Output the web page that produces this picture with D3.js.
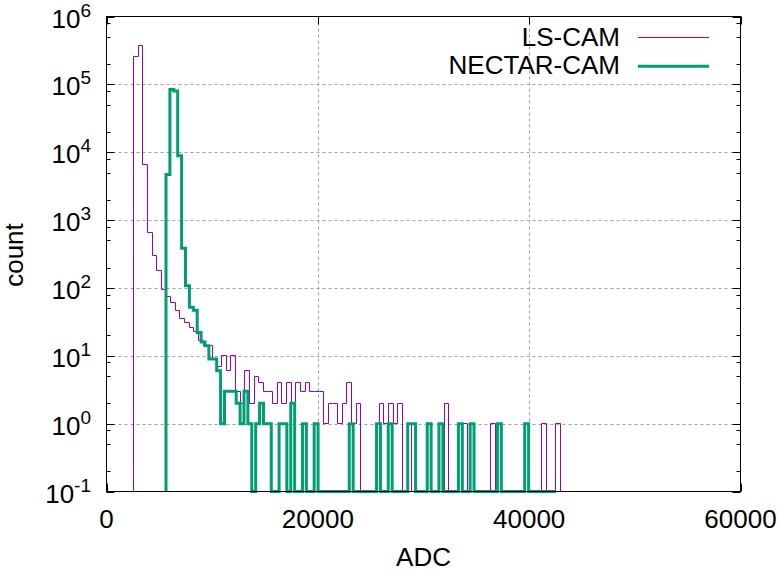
<!DOCTYPE html>
<html>
<head>
<meta charset="utf-8">
<script src="https://cdn.jsdelivr.net/npm/d3@7"></script>
<style>
  body { margin: 0; background: #fff; }
  text { font-family: "Liberation Sans", Arial, sans-serif; fill: #000; }
</style>
</head>
<body>
<svg id="chart" width="778" height="571"></svg>
<script>
// histogram of LS-CAM (bin start / width in ADC, counts per bin)
var lsStart = 2555, lsBin = 439;
var lsCounts = [
  260000, 370000, 6650, 660, 300, 182, 95, 75, 61, 47,
  36, 31, 26, 23, 17, 14, 14, 9, 7, 10,
  6, 10, 3, 2, 6, 2, 5, 4, 3, 3,
  2, 4, 2, 4, 2, 4, 3, 4, 3, 3,
  3, 1, 2, 2, 1, 2, 4, 1, 2, 0,
  0, 0, 0, 2, 1, 2, 1, 2, 0, 1,
  0, 0, 0, 0, 0, 0, 0, 2, 0, 0,
  0, 1, 0, 0, 0, 0, 0, 1, 0, 0,
  0, 0, 0, 0, 0, 0, 0, 0, 1, 0,
  0, 1
];
// histogram of NECTAR-CAM
var nectarStart = 5631, nectarBin = 369;
var nectarCounts = [
  4700, 84000, 80000, 8900, 385, 108, 52, 47, 22, 16,
  14, 9, 9, 6, 1, 3, 3, 3, 2, 1,
  3, 1, 0, 1, 2, 1, 1, 0, 0, 1,
  1, 0, 2, 0, 0, 1, 0, 0, 1, 0,
  0, 0, 0, 0, 0, 0, 0, 1, 0, 0,
  0, 0, 0, 0, 1, 0, 0, 1, 0, 0,
  0, 0, 1, 1, 0, 0, 0, 1, 0, 0,
  1, 0, 0, 0, 0, 1, 0, 0, 1, 0,
  0, 0, 0, 0, 0, 1, 0, 0, 0, 0,
  0, 0, 1, 0, 0, 0, 0, 0, 0, 0
];
var seriesNames = ["LS-CAM", "NECTAR-CAM"];
var xTicks = [0, 20000, 40000, 60000];
var yExps = [-1, 0, 1, 2, 3, 4, 5, 6];
var yMinor = [2, 5, 8];

var svg = d3.select("#chart");
var L = 106.5, R = 740.5, T = 16.5, B = 491.5;

var x = d3.scaleLinear().domain([0, 60000]).range([L, R]);
var y = d3.scaleLog().domain([0.1, 1e6]).range([B, T]);

//网格线
var grid = svg.append("g")
  .attr("stroke", "#a0a0a0")
  .attr("stroke-width", 1)
  .attr("stroke-dasharray", "3,3");
grid.selectAll("line.gx")
  .data(xTicks.slice(1, -1))
  .enter()
  .append("line")
  .attr("x1", function (d) { return Math.round(x(d)) + 0.5; })
  .attr("x2", function (d) { return Math.round(x(d)) + 0.5; })
  .attr("y1", T)
  .attr("y2", B);
grid.selectAll("line.gy")
  .data(yExps.slice(1, -1))
  .enter()
  .append("line")
  .attr("x1", L)
  .attr("x2", R)
  .attr("y1", function (d) { return Math.round(y(Math.pow(10, d))) + 0.5; })
  .attr("y2", function (d) { return Math.round(y(Math.pow(10, d))) + 0.5; });

// ticks, mirrored on both sides
var ticks = svg.append("g").attr("stroke", "#000").attr("stroke-width", 1);
var majorY = yExps.map(function (e) { return Math.pow(10, e); });
var minorY = [];
yExps.slice(0, -1).forEach(function (e) {
  yMinor.forEach(function (m) { minorY.push(m * Math.pow(10, e)); });
});
function yTick(vals, len) {
  vals.forEach(function (v) {
    var yy = Math.round(y(v)) + 0.5;
    ticks.append("line").attr("x1", L).attr("x2", L + len).attr("y1", yy).attr("y2", yy);
    ticks.append("line").attr("x1", R).attr("x2", R - len).attr("y1", yy).attr("y2", yy);
  });
}
yTick(majorY, 8);
yTick(minorY, 4);
xTicks.forEach(function (v) {
  var xx = Math.round(x(v)) + 0.5;
  ticks.append("line").attr("x1", xx).attr("x2", xx).attr("y1", B).attr("y2", B - 8);
  ticks.append("line").attr("x1", xx).attr("x2", xx).attr("y1", T).attr("y2", T + 8);
});

// histogram steps; empty bins sit on the bottom of the axis
function stepPoints(start, bin, counts) {
  var pts = [[start, 0]];
  counts.forEach(function (c, i) {
    pts.push([start + i * bin, c]);
    pts.push([start + (i + 1) * bin, c]);
  });
  pts.push([start + counts.length * bin, 0]);
  return pts;
}
function stepLine(snap) {
  // thin line snapped to pixel centres so it stays sharp
  var f = snap ? function (v) { return Math.round(v - 0.5) + 0.5; } : function (v) { return v; };
  return d3.line()
    .x(function (d) { return f(x(d[0])); })
    .y(function (d) { return f(y(Math.max(d[1], 0.1))); });
}

var series = [
  { name: seriesNames[0], pts: stepPoints(lsStart, lsBin, lsCounts), color: "#9400d3", w: 1 },
  { name: seriesNames[1], pts: stepPoints(nectarStart, nectarBin, nectarCounts), color: "#009e73", w: 3 }
];

svg.append("g")
  .selectAll("path")
  .data(series)
  .enter()
  .append("path")
  .attr("d", function (d) { return stepLine(d.w === 1)(d.pts); })
  .attr("fill", "none")
  .attr("stroke", function (d) { return d.color; })
  .attr("stroke-width", function (d) { return d.w; })
  .attr("stroke-linejoin", "miter");

// border
svg.append("rect")
  .attr("x", L).attr("y", T)
  .attr("width", R - L).attr("height", B - T)
  .attr("fill", "none").attr("stroke", "#000").attr("stroke-width", 1);

// tick labels
svg.append("g")
  .selectAll("text")
  .data(xTicks)
  .enter()
  .append("text")
  .attr("x", function (d) { return x(d); })
  .attr("y", 528)
  .attr("text-anchor", "middle")
  .style("font-size", "26px")
  .text(function (d) { return d; });

var yl = svg.append("g")
  .selectAll("text")
  .data(yExps)
  .enter()
  .append("text")
  .attr("x", 91)
  .attr("y", function (d) { return y(Math.pow(10, d)) + 11; })
  .attr("text-anchor", "end")
  .style("font-size", "26px");
yl.append("tspan").text("10");
yl.append("tspan")
  .attr("dy", -11)
  .style("font-size", "19px")
  .text(function (d) { return d; });

// axis titles
svg.append("text")
  .attr("x", (L + R) / 2)
  .attr("y", 566)
  .attr("text-anchor", "middle")
  .style("font-size", "26px")
  .text("ADC");
svg.append("text")
  .attr("transform", "translate(23,255) rotate(-90)")
  .attr("text-anchor", "middle")
  .style("font-size", "26px")
  .text("count");

// legend
var leg = svg.append("g")
  .selectAll("g")
  .data(series)
  .enter()
  .append("g")
  .attr("transform", function (d, i) { return "translate(0," + (i * 28.7) + ")"; });
leg.append("text")
  .attr("x", 620)
  .attr("y", 45.5)
  .attr("text-anchor", "end")
  .style("font-size", "26px")
  .text(function (d) { return d.name; });
leg.append("line")
  .attr("x1", 638).attr("x2", 709)
  .attr("y1", 37.5).attr("y2", 37.5)
  .attr("stroke", function (d) { return d.color; })
  .attr("stroke-width", function (d) { return d.w; });
</script>
</body>
</html>
